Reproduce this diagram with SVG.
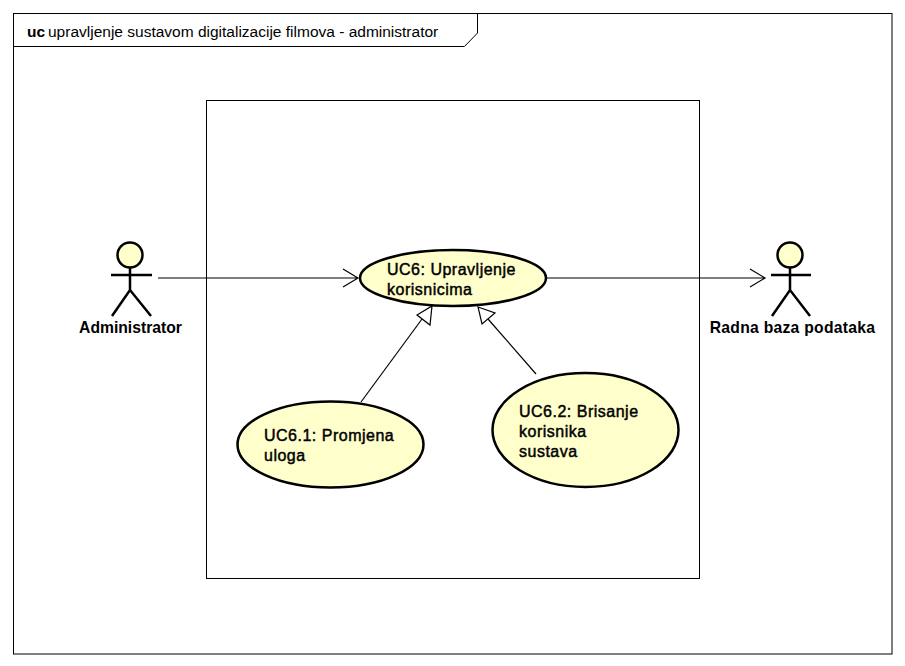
<svg xmlns="http://www.w3.org/2000/svg" width="905" height="666" viewBox="0 0 905 666">
<defs>
<style>
.frame{fill:none;stroke:#000;stroke-width:1}
.uc{fill:#ffffcc;stroke:#000;stroke-width:2.5}
.head{fill:#ffffcc;stroke:#000;stroke-width:2.5}
.limb{fill:none;stroke:#000;stroke-width:2.5}
.conn{fill:none;stroke:#000;stroke-width:1.2}
.gen{fill:#fff;stroke:#000;stroke-width:1.2}
text{font-family:"Liberation Sans",Arial,sans-serif;font-size:15.5px;fill:#000}
.b{font-weight:bold}
.t{font-size:15.7px;font-weight:bold}
.w{letter-spacing:.27px}
.u{font-size:16px;font-weight:normal;stroke:#000;stroke-width:.45px;letter-spacing:.5px}
</style>
</defs>
<rect width="905" height="666" fill="#fff"/>
<g id="frame">
<rect class="frame" x="13.500" y="13.500" width="878.500" height="640.500"/>
<path class="frame" d="M13.500 46.500H464.500L477.500 33V13.500"/>
<text x="27" y="37" class="b">uc</text>
<text x="48" y="37">upravljenje sustavom digitalizacije filmova - administrator</text>
</g>
<g id="boundary"><rect class="frame" x="206.500" y="100.500" width="493" height="478"/></g>
<g id="connectors">
<path class="conn" d="M158 278H358M343 269L358 278L343 287"/>
<path class="conn" d="M547 278H765M750 269L765 278L750 287"/>
<path class="conn" d="M361 402L422 319"/>
<polygon class="gen" points="432,306 430,325 417,315"/>
<path class="conn" d="M536 374L488 319"/>
<polygon class="gen" points="478,307 495,313 482,324"/>
</g>
<g id="actor-administrator">
<circle class="head" cx="130" cy="255" r="12.500"/>
<path class="limb" d="M130 268V290M111 275H152M112 316L130 290L151 316"/>
<text x="130.500" y="333" text-anchor="middle" class="t">Administrator</text>
</g>
<g id="actor-radna-baza">
<circle class="head" cx="790" cy="255" r="12.500"/>
<path class="limb" d="M790 268V290M771 275H811M772 316L790 290L810 316"/>
<text x="792.500" y="333" text-anchor="middle" class="t w">Radna baza podataka</text>
</g>
<g id="uc6">
<ellipse class="uc" cx="453" cy="278" rx="93" ry="28"/>
<text x="387" y="275" class="u">UC6: Upravljenje</text>
<text x="387" y="295" class="u">korisnicima</text>
</g>
<g id="uc6-1">
<ellipse class="uc" cx="330.500" cy="444.500" rx="93" ry="43"/>
<text x="264" y="441" class="u">UC6.1: Promjena</text>
<text x="264" y="461" class="u">uloga</text>
</g>
<g id="uc6-2">
<ellipse class="uc" cx="585.500" cy="430" rx="93" ry="57"/>
<text x="519" y="417" class="u">UC6.2: Brisanje</text>
<text x="519" y="437" class="u">korisnika</text>
<text x="519" y="457" class="u">sustava</text>
</g>
</svg>
